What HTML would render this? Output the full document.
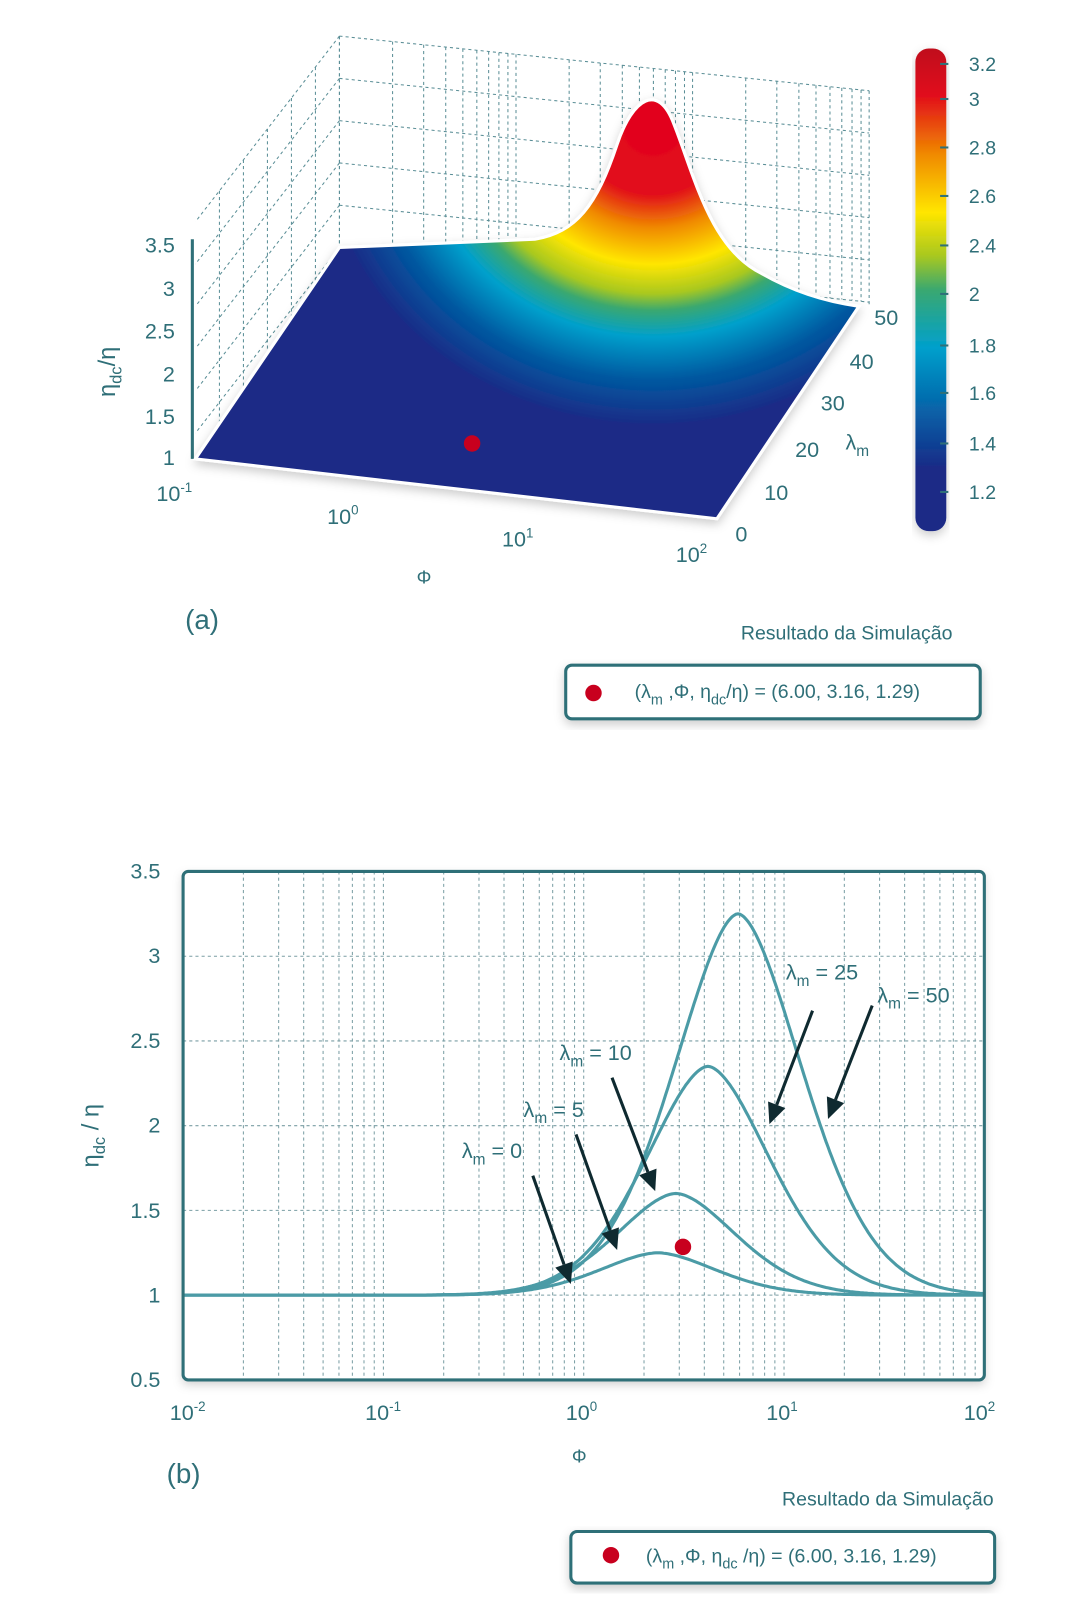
<!DOCTYPE html>
<html><head><meta charset="utf-8"><style>
html,body{margin:0;padding:0;background:#fff;}
svg{display:block;}
text{font-family:"Liberation Sans",sans-serif;fill:#2f6f78;}
</style></head><body>
<svg id="s" width="1080" height="1614" viewBox="0 0 1050 1565" preserveAspectRatio="none" xmlns="http://www.w3.org/2000/svg">
<defs>
<radialGradient id="rg" gradientUnits="userSpaceOnUse" cx="0" cy="0" r="320" gradientTransform="translate(635,125) scale(1.12,1)">
<stop offset="0" stop-color="#e2001a"/>
<stop offset="0.2" stop-color="#e2101a"/>
<stop offset="0.3" stop-color="#f08a00"/>
<stop offset="0.41" stop-color="#ffe600"/>
<stop offset="0.5" stop-color="#a8c820"/>
<stop offset="0.55" stop-color="#3aa870"/>
<stop offset="0.63" stop-color="#00a0cc"/>
<stop offset="0.76" stop-color="#0058a0"/>
<stop offset="0.9" stop-color="#1b2a86"/>
<stop offset="1" stop-color="#1b2a86"/>
</radialGradient>
<linearGradient id="cb" x1="0" y1="1" x2="0" y2="0">
<stop offset="0" stop-color="#1b2a86"/>
<stop offset="0.13" stop-color="#1b2a86"/>
<stop offset="0.2" stop-color="#0a4a9a"/>
<stop offset="0.38" stop-color="#00a0cc"/>
<stop offset="0.5" stop-color="#3aa870"/>
<stop offset="0.57" stop-color="#a8c820"/>
<stop offset="0.66" stop-color="#ffe600"/>
<stop offset="0.78" stop-color="#f08a00"/>
<stop offset="0.9" stop-color="#e2101a"/>
<stop offset="1" stop-color="#c0101a"/>
</linearGradient>
<filter id="sh" x="-10%" y="-10%" width="120%" height="130%"><feDropShadow dx="0" dy="4" stdDeviation="5" flood-color="#000" flood-opacity="0.2"/></filter>
</defs>
<g id="wire" stroke="#5a8e96" stroke-width="1" stroke-dasharray="3,3" fill="none"></g>
<line x1="187" y1="232" x2="187" y2="445" stroke="#2f7078" stroke-width="3"/>
<path d="M190,445 L330,240 L520,232 C560,225 580,200 600,140 C615,95 640,80 655,120 C675,170 690,240 740,265 C770,282 800,292 835,297 L697,503 Z" fill="url(#rg)" stroke="#fff" stroke-width="3" filter="url(#sh)"/>
<circle cx="459" cy="430" r="8" fill="#c8001e"/>
<g font-size="21">
<text x="170" y="245" text-anchor="end">3.5</text>
<text x="170" y="287" text-anchor="end">3</text>
<text x="170" y="328" text-anchor="end">2.5</text>
<text x="170" y="370" text-anchor="end">2</text>
<text x="170" y="411" text-anchor="end">1.5</text>
<text x="170" y="451" text-anchor="end">1</text>
<text x="152" y="486">10<tspan font-size="13" dy="-9">-1</tspan></text>
<text x="318" y="508">10<tspan font-size="13" dy="-9">0</tspan></text>
<text x="488" y="530">10<tspan font-size="13" dy="-9">1</tspan></text>
<text x="657" y="545">10<tspan font-size="13" dy="-9">2</tspan></text>
<text x="405" y="566" font-size="18">Φ</text>
<text x="715" y="525">0</text>
<text x="743" y="485">10</text>
<text x="773" y="443">20</text>
<text x="798" y="398">30</text>
<text x="826" y="358">40</text>
<text x="850" y="315">50</text>
<text x="822" y="436">λ<tspan font-size="15" dy="6">m</tspan></text>
<text transform="translate(112,385) rotate(-90)" font-size="23">η<tspan font-size="16" dy="6">dc</tspan><tspan dy="-6">/η</tspan></text>
<text x="180" y="610" font-size="27">(a)</text>
</g>
<rect x="890" y="47" width="30" height="468" rx="13" fill="url(#cb)" filter="url(#sh)"/>
<g stroke="#2f7078" stroke-width="2" id="cbt"></g>
<g font-size="19">
<text x="942" y="69">3.2</text><text x="942" y="103">3</text><text x="942" y="150">2.8</text><text x="942" y="197">2.6</text><text x="942" y="245">2.4</text><text x="942" y="292">2</text><text x="942" y="342">1.8</text><text x="942" y="388">1.6</text><text x="942" y="437">1.4</text><text x="942" y="484">1.2</text>
</g>
<text x="926" y="620" font-size="19" text-anchor="end">Resultado da Simulação</text>
<rect x="550" y="645" width="403" height="52" rx="6" fill="#fff" stroke="#2f7078" stroke-width="3" filter="url(#sh)"/>
<circle cx="577" cy="672" r="8" fill="#c8001e"/>
<text x="617" y="677" font-size="19">(λ<tspan font-size="14" dy="6">m</tspan><tspan dy="-6"> ,Φ, η</tspan><tspan font-size="14" dy="6">dc</tspan><tspan dy="-6">/η) = (6.00, 3.16, 1.29)</tspan></text>

<rect x="178" y="845" width="779" height="493" fill="#fff" filter="url(#sh)"/>
<g id="grid" stroke="#7a9ea4" stroke-width="1" stroke-dasharray="3,3"></g>
<g id="curves" fill="none" stroke="#4b9ba6" stroke-width="3"></g>
<rect x="178" y="845" width="779" height="493" rx="5" fill="none" stroke="#2f7078" stroke-width="3"/>
<g font-size="21" text-anchor="end">
<text x="156" y="852">3.5</text><text x="156" y="934">3</text><text x="156" y="1016">2.5</text><text x="156" y="1098">2</text><text x="156" y="1181">1.5</text><text x="156" y="1263">1</text><text x="156" y="1345">0.5</text>
</g>
<g font-size="21">
<text x="165" y="1377">10<tspan font-size="13" dy="-9">-2</tspan></text>
<text x="355" y="1377">10<tspan font-size="13" dy="-9">-1</tspan></text>
<text x="550" y="1377">10<tspan font-size="13" dy="-9">0</tspan></text>
<text x="745" y="1377">10<tspan font-size="13" dy="-9">1</tspan></text>
<text x="937" y="1377">10<tspan font-size="13" dy="-9">2</tspan></text>
<text x="556" y="1418" font-size="18">Φ</text>
<text x="162" y="1438" font-size="27">(b)</text>
<text transform="translate(96,1132) rotate(-90)" font-size="23">η<tspan font-size="16" dy="6">dc</tspan><tspan dy="-6"> / η</tspan></text>
<text x="449" y="1123">λ<tspan font-size="15" dy="6">m</tspan><tspan dy="-6"> = 0</tspan></text>
<text x="509" y="1083">λ<tspan font-size="15" dy="6">m</tspan><tspan dy="-6"> = 5</tspan></text>
<text x="544" y="1028">λ<tspan font-size="15" dy="6">m</tspan><tspan dy="-6"> = 10</tspan></text>
<text x="764" y="950">λ<tspan font-size="15" dy="6">m</tspan><tspan dy="-6"> = 25</tspan></text>
<text x="853" y="972">λ<tspan font-size="15" dy="6">m</tspan><tspan dy="-6"> = 50</tspan></text>
</g>
<g id="arrows"></g>
<circle cx="664" cy="1209" r="8" fill="#c8001e"/>
<text x="966" y="1460" font-size="19" text-anchor="end">Resultado da Simulação</text>
<rect x="555" y="1485" width="412" height="50" rx="6" fill="#fff" stroke="#2f7078" stroke-width="3" filter="url(#sh)"/>
<circle cx="594" cy="1508" r="8" fill="#c8001e"/>
<text x="628" y="1515" font-size="19">(λ<tspan font-size="14" dy="6">m</tspan><tspan dy="-6"> ,Φ, η</tspan><tspan font-size="14" dy="6">dc</tspan><tspan dy="-6"> /η) = (6.00, 3.16, 1.29)</tspan></text>
</svg>
<script>
var NS="http://www.w3.org/2000/svg";
function el(p,t,a){var e=document.createElementNS(NS,t);for(var k in a)e.setAttribute(k,a[k]);p.appendChild(e);return e;}
var g=document.getElementById("grid");
function X(u){return 178+(u+2)*194.75;}
function Y(v){return 1338-(v-0.5)*164.33;}
for(var d=-2;d<2;d++)for(var m=1;m<10;m++){var x=X(d+Math.log10(m));if(m>1||d>-2)el(g,"line",{x1:x,y1:845,x2:x,y2:1338});}
for(var v=1;v<=3;v+=0.5){el(g,"line",{x1:178,y1:Y(v),x2:957,y2:Y(v)});}
var cs=[[0.25,0.37,0.30],[0.6,0.46,0.31],[1.35,0.62,0.32],[2.25,0.77,0.33]];
var cg=document.getElementById("curves");
cs.forEach(function(c){var d="";for(var i=0;i<=400;i++){var u=-2+4*i/400;var z=Math.abs((u-c[1])/c[2]);var v=1+c[0]*Math.exp(-0.55*Math.pow(z,1.75));d+=(i?"L":"M")+X(u).toFixed(1)+","+Y(v).toFixed(1);}el(cg,"path",{d:d});});
var ag=document.getElementById("arrows");
[[518,1140,555,1245],[560,1100,600,1212],[595,1045,637,1155],[790,980,748,1090],[848,975,805,1085]].forEach(function(a){
var dx=a[2]-a[0],dy=a[3]-a[1],L=Math.hypot(dx,dy),ux=dx/L,uy=dy/L,h=20,w=9;
var bx=a[2]-ux*h,by=a[3]-uy*h;
el(ag,"line",{x1:a[0],y1:a[1],x2:bx,y2:by,stroke:"#0f2a30","stroke-width":3});
el(ag,"polygon",{points:a[2]+","+a[3]+" "+(bx-uy*w)+","+(by+ux*w)+" "+(bx+uy*w)+","+(by-ux*w),fill:"#0f2a30"});});
var w=document.getElementById("wire");
el(w,"line",{x1:330,y1:35,x2:845,y2:88});
el(w,"line",{x1:330,y1:35,x2:190,y2:215});
el(w,"line",{x1:330,y1:35,x2:330,y2:240});
el(w,"line",{x1:845,y1:88,x2:845,y2:297});
for(var k=1;k<=5;k++){var dy=k*41;el(w,"line",{x1:330,y1:35+dy,x2:845,y2:88+dy});el(w,"line",{x1:330,y1:35+dy,x2:190,y2:215+dy});}
for(var d2=0;d2<3;d2++)for(var m2=1;m2<10;m2++){var f=(d2+Math.log10(m2))/3;var xb=330+f*515,yb=35+f*53;el(w,"line",{x1:xb,y1:yb,x2:xb,y2:yb+205});}
for(var k2=1;k2<6;k2++){var f2=k2/6;el(w,"line",{x1:330-140*f2,y1:35+180*f2,x2:330-140*f2,y2:240+205*f2});}
var ct=document.getElementById("cbt");
[62,96,143,190,238,285,335,381,430,477].forEach(function(y){el(ct,"line",{x1:914,y1:y,x2:922,y2:y});});
</script>
</body></html>
